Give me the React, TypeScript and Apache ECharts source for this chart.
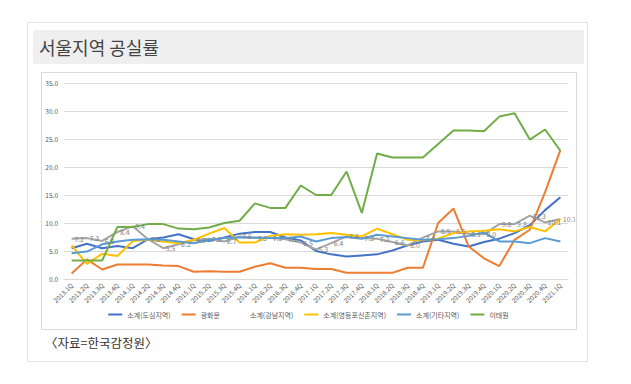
import React, { useEffect, useRef } from "react";
import * as echarts from "echarts";

const categories = [
  "2013.1Q", "2013.2Q", "2013.3Q", "2013.4Q",
  "2014.1Q", "2014.2Q", "2014.3Q", "2014.4Q",
  "2015.1Q", "2015.2Q", "2015.3Q", "2015.4Q",
  "2016.1Q", "2016.2Q", "2016.3Q", "2016.4Q",
  "2017.1Q", "2017.2Q", "2017.3Q", "2017.4Q",
  "2018.1Q", "2018.2Q", "2018.3Q", "2018.4Q",
  "2019.1Q", "2019.2Q", "2019.3Q", "2019.4Q",
  "2020.1Q", "2020.2Q", "2020.3Q", "2020.4Q",
  "2021.1Q",
];

const dosim = [5.5, 6.3, 5.5, 5.9, 5.5, 7.1, 7.4, 8.0, 7.1, 6.8, 7.4, 8.1, 8.4, 8.4, 7.4, 6.9, 5.0, 4.4, 4.0, 4.2, 4.4, 5.1, 6.0, 6.7, 7.0, 6.3, 5.8, 6.6, 7.2, 8.2, 9.6, 12.3, 14.6];
const gwanghwamun = [1.0, 3.5, 1.7, 2.6, 2.6, 2.6, 2.4, 2.3, 1.3, 1.4, 1.3, 1.3, 2.2, 2.8, 2.0, 2.0, 1.8, 1.8, 1.1, 1.1, 1.1, 1.1, 2.0, 2.0, 10.0, 12.6, 5.8, 3.7, 2.3, 7.0, 8.8, 15.5, 23.0];
const gangnam = [7.2, 7.3, 6.8, 8.4, 9.4, 7.1, 5.5, 6.2, 6.9, 7.2, 6.7, 7.6, 7.3, 7.3, 7.1, 6.5, 5.3, 6.4, 7.6, 7.3, 7.2, 6.6, 6.0, 7.4, 8.5, 8.5, 8.1, 8.0, 9.8, 9.8, 11.3, 10.1, 10.7];
const yeongdeungpo = [6.0, 2.7, 4.5, 4.1, 6.8, 7.0, 6.7, 6.4, 7.0, 8.1, 9.1, 6.5, 6.5, 7.7, 8.0, 7.9, 8.0, 8.2, 7.9, 7.6, 9.0, 8.0, 7.0, 6.9, 7.2, 8.2, 8.5, 8.6, 8.9, 8.5, 9.3, 8.5, 10.7];
const gita = [4.6, 4.9, 6.2, 6.7, 7.0, 7.1, 7.0, 6.7, 6.4, 7.0, 7.3, 7.4, 7.4, 7.3, 7.3, 7.6, 6.7, 7.3, 7.5, 7.2, 7.9, 7.6, 7.3, 7.0, 7.1, 7.3, 7.7, 8.3, 6.7, 6.7, 6.4, 7.3, 6.7];
const itaewon = [3.3, 3.3, 3.3, 9.3, 9.3, 9.8, 9.8, 9.0, 8.9, 9.2, 10.0, 10.4, 13.5, 12.7, 12.7, 16.7, 15.0, 15.0, 19.2, 11.8, 22.4, 21.7, 21.7, 21.7, 24.1, 26.5, 26.5, 26.4, 29.0, 29.6, 24.9, 26.7, 22.9];

const seriesNames = ["소계(도심지역)", "광화문", "소계(강남지역)", "소계(영등포신촌지역)", "소계(기타지역)", "이태원"];
const seriesData = [dosim, gwanghwamun, gangnam, yeongdeungpo, gita, itaewon];
const colors = ["#4472C4", "#ED7D31", "#A5A5A5", "#FFC000", "#5B9BD5", "#70AD47"];

const FONT = "'Noto Sans CJK KR', 'Noto Sans', sans-serif";

export default function App() {
  const ref = useRef<HTMLDivElement>(null);
  useEffect(() => {
    if (!ref.current) return;
    const chart = echarts.init(ref.current, null, { renderer: "svg" });
    chart.setOption({
      animation: false,
      color: colors,
      textStyle: { fontFamily: FONT },
      grid: { left: 22, right: 7, top: 10, bottom: 50 },
      legend: {
        bottom: 6,
        left: "center",
        icon: "rect",
        itemWidth: 14,
        itemHeight: 2,
        itemGap: 11,
        textStyle: { fontSize: 7, color: "#595959", fontFamily: FONT },
        data: seriesNames,
      },
      xAxis: {
        type: "category",
        data: categories,
        boundaryGap: true,
        axisLine: { lineStyle: { color: "#d9d9d9" } },
        axisTick: { show: false },
        axisLabel: { rotate: 45, interval: 0, fontSize: 6.5, color: "#595959", margin: 5, fontFamily: FONT },
      },
      yAxis: {
        type: "value",
        min: 0,
        max: 35,
        interval: 5,
        axisLine: { show: false },
        axisTick: { show: false },
        splitLine: { lineStyle: { color: "#d9d9d9" } },
        axisLabel: { fontSize: 6.5, color: "#595959", margin: 6, formatter: (v: number) => v.toFixed(1), fontFamily: FONT },
      },
      series: seriesNames.map((name, i) => {
        const isGangnam = i === 2;
        return {
          name,
          type: "line",
          data: seriesData[i],
          symbol: isGangnam ? "circle" : "none",
          showSymbol: isGangnam,
          symbolSize: 1,
          itemStyle: { color: colors[i], opacity: isGangnam ? 0 : 1 },
          lineStyle: { width: 2, color: colors[i] },
          label: isGangnam
            ? {
                show: true,
                position: "right",
                distance: 2,
                fontSize: 7,
                color: "#7f7f7f",
                opacity: 1,
                fontFamily: FONT,
                formatter: (p: any) => Number(p.value).toFixed(1),
              }
            : { show: false },
          labelLayout: { hideOverlap: false },
        };
      }),
    });
    return () => chart.dispose();
  }, []);

  return (
    <div style={{ position: "absolute", left: 0, top: 0, width: 631, height: 384, background: "#fff", fontFamily: FONT }}>
      <div style={{ position: "absolute", left: 27, top: 22, width: 561, height: 340, border: "1px solid #e3e3e3", boxSizing: "border-box" }} />
      <div style={{ position: "absolute", left: 33, top: 30, width: 551, height: 34, background: "#efefef" }} />
      <div style={{ position: "absolute", left: 39, top: 35, fontSize: 18, lineHeight: "24px", color: "#444" }}>서울지역 공실률</div>
      <div style={{ position: "absolute", left: 41, top: 72, width: 536, height: 258, border: "1px solid #d9d9d9", boxSizing: "border-box" }} />
      <div ref={ref} style={{ position: "absolute", left: 42, top: 73, width: 533, height: 256 }} />
      <div style={{ position: "absolute", left: 45, top: 334, fontSize: 12.5, lineHeight: "18px", color: "#333" }}>〈자료=한국감정원〉</div>
    </div>
  );
}
